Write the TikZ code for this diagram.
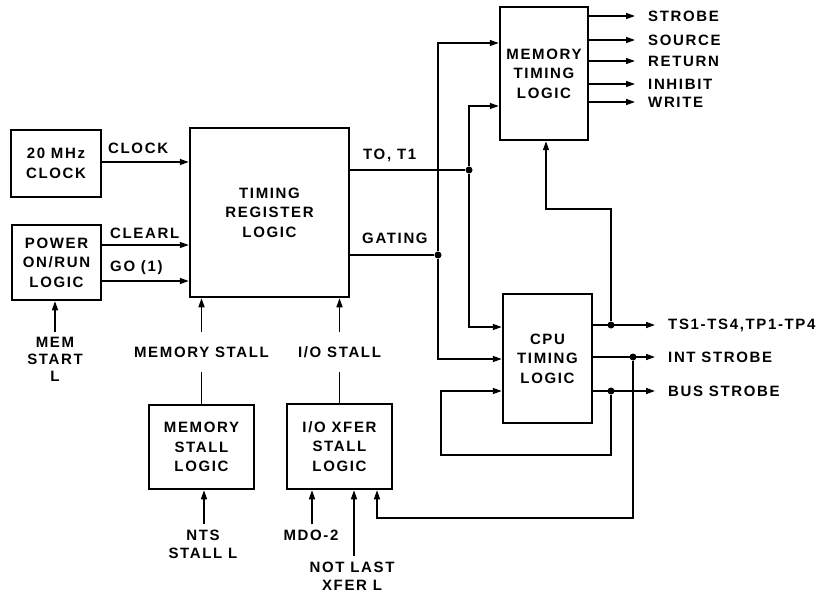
\documentclass[tikz,border=0pt]{standalone}
\usepackage{fontspec}
\setmainfont{Liberation Sans}[LetterSpace=11]
\usetikzlibrary{arrows.meta}
\begin{document}
\begin{tikzpicture}[x=1pt,y=-1pt,
  txt/.style={font=\fontsize{15}{19.5}\selectfont\bfseries, align=center, inner sep=0pt},
  blk/.style={draw, line width=2.5pt, txt},
  wire/.style={line width=1.4pt},
  arr/.style={wire, -{Triangle[length=9pt,width=6pt]}},
  jdot/.style={circle, fill, inner sep=0pt, minimum size=7pt},
  gap/.style={txt, inner ysep=14pt},
  inlbl/.style={txt, inner ysep=5pt},
]
\useasboundingbox (0,0) rectangle (825,596);

% blocks
\node[blk, minimum width=90pt, minimum height=67pt] (CLK) at (56,163.5) {20 MHz\\CLOCK};
\node[blk, minimum width=89pt, minimum height=75pt] (PWR) at (56.5,262.5) {POWER\\ON/RUN\\LOGIC};
\node[blk, minimum width=159pt, minimum height=169pt] (TR) at (269.5,212.5) {TIMING\\REGISTER\\LOGIC};
\node[blk, minimum width=88pt, minimum height=133pt] (MT) at (544,73.5) {MEMORY\\TIMING\\LOGIC};
\node[blk, minimum width=89pt, minimum height=129pt] (CPU) at (547.5,358.5) {CPU\\TIMING\\LOGIC};
\node[blk, minimum width=105pt, minimum height=84pt] (MS) at (201.5,447) {MEMORY\\STALL\\LOGIC};
\node[blk, minimum width=105pt, minimum height=85pt] (IOX) at (339.5,446.5) {I/O XFER\\STALL\\LOGIC};

% labels on wires
\node[txt, anchor=west] (Lclk) at (108,148) {CLOCK};
\node[txt, anchor=west] (Lclr) at (110,233) {CLEARL};
\node[txt, anchor=west] (Lgo) at (110,268) {GO (1)};
\node[txt, anchor=west] (Lt0) at (363,155) {TO, T1};
\node[txt, anchor=west] (Lgat) at (362,238) {GATING};
\node[gap] (MSL) at (201.5,352) {MEMORY STALL};
\node[gap] (ISL) at (339.5,352) {I/O STALL};
\node[inlbl, font=\fontsize{15}{17}\selectfont\bfseries] (MST) at (55,359) {MEM\\START\\L};
\node[inlbl, font=\fontsize{15}{18}\selectfont\bfseries] (NTS) at (203,544) {NTS\\STALL L};
\node[inlbl] (MDO) at (311,535) {MDO-2};
\node[inlbl, inner ysep=6pt, font=\fontsize{15}{18}\selectfont\bfseries] (NLX) at (352,576) {NOT LAST\\XFER L};

% memory timing outputs
\node[txt, anchor=west] (o1) at (648,16) {STROBE};
\node[txt, anchor=west] (o2) at (648,40) {SOURCE};
\node[txt, anchor=west] (o3) at (648,61) {RETURN};
\node[txt, anchor=west] (o4) at (648,84) {INHIBIT};
\node[txt, anchor=west] (o5) at (648,102) {WRITE};
% cpu timing outputs
\node[txt, anchor=west] (o6) at (668,325) {TS1-TS4,TP1-TP4};
\node[txt, anchor=west] (o7) at (668,357) {INT STROBE};
\node[txt, anchor=west] (o8) at (668,391) {BUS STROBE};

% junction dots
\node[jdot] (d1) at (469,170) {};
\node[jdot] (d2) at (438,255) {};
\node[jdot] (dts) at (611,325) {};
\node[jdot] (dint) at (633,357) {};
\node[jdot] (dbus) at (611,391) {};
\coordinate (lp) at (441,455);
\coordinate (fb) at (377,518);

% left side
\draw[arr] (CLK.east |- 0,162) -- (TR.west |- 0,162);
\draw[arr] (PWR.east |- 0,245) -- (TR.west |- 0,245);
\draw[arr] (PWR.east |- 0,281) -- (TR.west |- 0,281);
\draw[arr] (MST.north) -- (MST.north |- PWR.south);

% stall paths
\draw[wire] (MS.north) -- (MSL.south);
\draw[arr] (MSL.north) -- (MSL.north |- TR.south);
\draw[wire] (IOX.north) -- (ISL.south);
\draw[arr] (ISL.north) -- (ISL.north |- TR.south);
\draw[arr] (NTS.north -| 204,0) -- (MS.south -| 204,0);
\draw[arr] (MDO.north -| 312,0) -- (IOX.south -| 312,0);
\draw[arr] (NLX.north -| 354,0) -- (IOX.south -| 354,0);

% timing register outputs
\draw[wire] (TR.east |- d1) -- (d1);
\draw[wire] (TR.east |- d2) -- (d2);
\draw[arr] (d2) |- ([yshift=30.5pt]MT.west);
\draw[arr] (d1) |- ([yshift=-32.5pt]MT.west);
\draw[arr] (d1) |- ([yshift=31.5pt]CPU.west);
\draw[arr] (d2) |- ([yshift=-0.5pt]CPU.west);

% memory timing outputs
\foreach \o in {o1,o2,o3,o4,o5}
  \draw[arr] (MT.east |- \o.west) -- ([xshift=-13pt]\o.west);

% cpu outputs
\foreach \o in {o6,o7,o8}
  \draw[arr] (CPU.east |- \o.west) -- ([xshift=-13pt]\o.west);

% feedbacks
\draw[arr] (dts) -- ++(0,-116) -| ([xshift=2pt]MT.south);
\draw[arr] (dbus) |- (lp) |- ([yshift=-32.5pt]CPU.west);
\draw[arr] (dint) |- (fb) -- (fb |- IOX.south);
\end{tikzpicture}
\end{document}
